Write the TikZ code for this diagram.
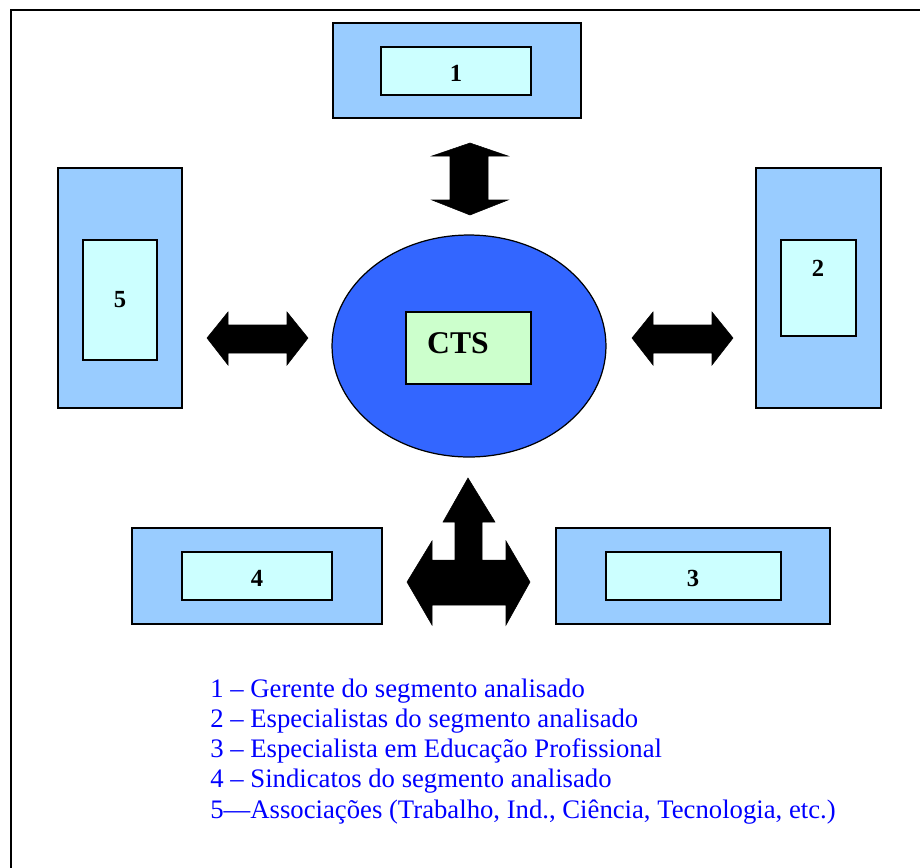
\documentclass[tikz,border=0pt]{standalone}
\usepackage{fontspec}
\setmainfont{Liberation Serif}
\usetikzlibrary{shapes.geometric}
\definecolor{boxblue}{RGB}{153,204,255}
\definecolor{boxcyan}{RGB}{204,255,255}
\definecolor{ovalblue}{RGB}{51,102,255}
\definecolor{ctsgreen}{RGB}{204,255,204}
\tikzset{
	outerbox/.style={draw,fill=boxblue,line width=0.7pt,inner sep=0pt},
	innerbox/.style={draw,fill=boxcyan,line width=0.7pt,inner sep=0pt},
	numlabel/.style={font=\fontsize{14}{16}\selectfont\bfseries},
	legend/.style={text=blue,font=\fontsize{15.2}{17}\selectfont,anchor=base west,inner sep=0pt},
	blockarrow/.style={fill=black,draw=black,line width=0.3pt},
}
\begin{document}
\begin{tikzpicture}[x=0.02cm,y=-0.02cm]
	\useasboundingbox (0,0) rectangle (920,867);
	\draw[line width=1.2pt] (11,890)--(11,10)--(940,10);
	% center
	\node[ellipse,draw,fill=ovalblue,line width=0.7pt,inner sep=0pt,minimum width=5.48cm,minimum height=4.44cm] (oval) at (469,346) {};
	\node[draw,fill=ctsgreen,line width=0.7pt,inner sep=0pt,minimum width=2.5cm,minimum height=1.44cm] (cts) at (468.5,348) {};
	\node[font=\fontsize{18}{20}\selectfont\bfseries] (ctstext) at (458,343) {CTS};
	% outer boxes
	\node[outerbox,minimum width=4.96cm,minimum height=1.9cm] (o1) at (457,70.5) {};
	\node[outerbox,minimum width=2.5cm,minimum height=4.8cm] (o2) at (818.5,288) {};
	\node[outerbox,minimum width=5.48cm,minimum height=1.92cm] (o3) at (693,576) {};
	\node[outerbox,minimum width=5cm,minimum height=1.92cm] (o4) at (257,576) {};
	\node[outerbox,minimum width=2.48cm,minimum height=4.8cm] (o5) at (120,288) {};
	% inner boxes
	\node[innerbox,minimum width=3cm,minimum height=0.96cm] (i1) at (456,71) {};
	\node[innerbox,minimum width=1.5cm,minimum height=1.92cm] (i2) at (818.5,288) {};
	\node[innerbox,minimum width=3.5cm,minimum height=0.96cm] (i3) at (693.5,576) {};
	\node[innerbox,minimum width=3cm,minimum height=0.96cm] (i4) at (257,576) {};
	\node[innerbox,minimum width=1.48cm,minimum height=2.4cm] (i5) at (120,300) {};
	\foreach \n/\p in {1/{(456,73)},2/{(818,268)},3/{(693,578)},4/{(257,578)},5/{(120,300)}}{
		\node[numlabel] (n\n) at \p {\n};
	}
	% block arrows
	\fill[blockarrow] (470,143)--(508,156)--(488,156)--(488,200)--(508,200)--(470,215)
		--(432,200)--(450,200)--(450,156)--(432,156)--cycle;
	\foreach \s in {0,425}{
		\fill[blockarrow,xshift=\s*0.02cm] (207,338)--(228,312)--(228,325)--(287,325)--(287,312)
			--(308,338)--(287,365)--(287,353)--(228,353)--(228,365)--cycle;
	}
	\fill[blockarrow] (468,478)--(495,522)--(482,522)--(482,560)--(506,560)--(506,541)
		--(530,582)--(506,625)--(506,605)--(432,605)--(432,625)--(407,582)--(432,541)
		--(432,560)--(455,560)--(455,522)--(443,522)--cycle;
	% legend
	\foreach \i/\t in {0/{1 – Gerente do segmento analisado},
		1/{2 – Especialistas do segmento analisado},
		2/{3 – Especialista em Educação Profissional},
		3/{4 – Sindicatos do segmento analisado},
		4/{5—Associações (Trabalho, Ind., Ciência, Tecnologia, etc.)}}{
		\node[legend] (l\i) at (210,697+30.25*\i) {\t};
	}
\end{tikzpicture}
\end{document}
